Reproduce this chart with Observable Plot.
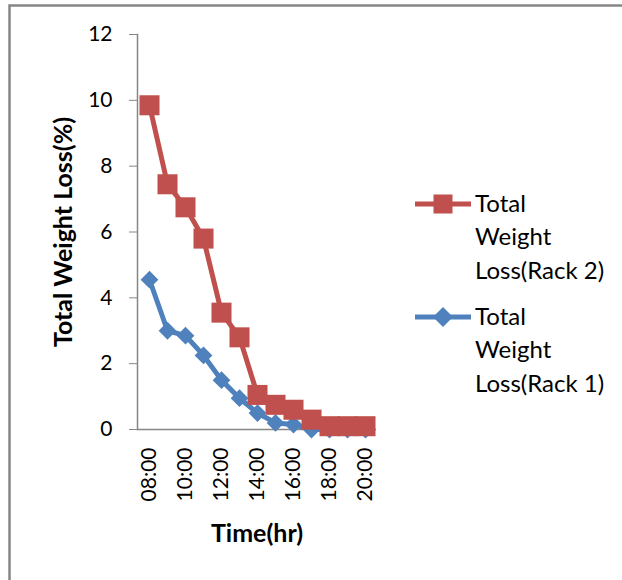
<!DOCTYPE html>
<html><head><meta charset="utf-8">
<script src="https://cdn.jsdelivr.net/npm/d3@7"></script>
<script src="https://cdn.jsdelivr.net/npm/@observablehq/plot@0.6"></script>
<style>
body{margin:0;background:#fff;}
#wrap{position:relative;width:622px;height:580px;overflow:hidden;}
#wrap svg{position:absolute;left:0;top:0;}
</style>
</head><body><div id="wrap"></div>
<script>
const times = ["08:00","09:00","10:00","11:00","12:00","13:00","14:00","15:00","16:00","17:00","18:00","19:00","20:00"];
const rack2 = [9.85, 7.45, 6.75, 5.8, 3.55, 2.8, 1.05, 0.75, 0.6, 0.3, 0.1, 0.1, 0.1];
const rack1 = [4.55, 3.0, 2.85, 2.25, 1.5, 0.95, 0.5, 0.2, 0.15, 0.0, 0.0, 0.0, 0.0];
const xTickLabels = ["08:00","10:00","12:00","14:00","16:00","18:00","20:00"];
const yTicks = [0, 2, 4, 6, 8, 10, 12];
const seriesNames = ["Total Weight Loss(Rack 2)", "Total Weight Loss(Rack 1)"];
const yTitle = "Total Weight Loss(%)";
const xTitle = "Time(hr)";

const red = "#C0504D", blue = "#4F81BD", gray = "#868686";
const font = "Lato, sans-serif";
const d1 = times.map((t, i) => ({t, v: rack1[i]}));
const d2 = times.map((t, i) => ({t, v: rack2[i]}));

const chart = Plot.plot({
  width: 622, height: 580,
  marginLeft: 137, marginRight: 246, marginTop: 34, marginBottom: 151,
  style: {fontFamily: font, fontSize: "21px", color: "#000", background: "transparent"},
  x: {type: "point", domain: times, padding: 0.5},
  y: {domain: [0, 12]},
  marks: [
    Plot.frame({anchor: "left", stroke: gray, strokeWidth: 1.5}),
    Plot.ruleY([0], {stroke: gray, strokeWidth: 1.5}),
    Plot.axisY({ticks: yTicks, tickSize: 8, tickPadding: 17, stroke: gray, label: null, fontSize: 21}),
    Plot.axisX({ticks: xTickLabels, tickSize: 0, tickPadding: 18, tickRotate: -90, label: null, fontSize: 21}),
    Plot.text([yTitle], {frameAnchor: "left", textAnchor: "middle", lineAnchor: "middle", rotate: -90, dx: -74, fontWeight: "bold", fontSize: 25}),
    Plot.text([xTitle], {frameAnchor: "bottom", textAnchor: "middle", lineAnchor: "middle", dy: 104, fontWeight: "bold", fontSize: 25}),
    Plot.lineY(d1, {x: "t", y: "v", stroke: blue, strokeWidth: 5}),
    Plot.dot(d1, {x: "t", y: "v", symbol: "diamond2", r: 8, fill: blue}),
    Plot.lineY(d2, {x: "t", y: "v", stroke: red, strokeWidth: 5}),
    Plot.dot(d2, {x: "t", y: "v", symbol: "square", r: 11.3, fill: red})
  ]
});
const wrap = document.getElementById("wrap");
wrap.appendChild(chart);

// chart border + legend overlay
const svg = d3.select(wrap).append("svg").attr("width", 622).attr("height", 580)
  .style("font-family", font).style("font-size", "24px");
svg.append("path").attr("d", "M9.5,580V5.5H622").attr("fill", "none").attr("stroke", gray).attr("stroke-width", 2.5);

const items = [
  {name: seriesNames[0], color: red, shape: "square", y: 204},
  {name: seriesNames[1], color: blue, shape: "diamond", y: 317}
];
items.forEach(it => {
  const g = svg.append("g");
  g.append("line").attr("x1", 415).attr("x2", 471).attr("y1", it.y).attr("y2", it.y)
    .attr("stroke", it.color).attr("stroke-width", 5);
  if (it.shape === "square") {
    g.append("rect").attr("x", 433.5).attr("y", it.y - 9.5).attr("width", 19).attr("height", 19).attr("fill", it.color);
  } else {
    g.append("path").attr("d", `M443,${it.y - 10}L453,${it.y}L443,${it.y + 10}L433,${it.y}Z`).attr("fill", it.color);
  }
  const w = it.name.split(" ");
  const lines = [w[0], w[1], w.slice(2).join(" ")];
  lines.forEach((l, i) => {
    g.append("text").attr("x", 475).attr("y", it.y + 8 + i * 33.3).text(l);
  });
});
</script>
</body></html>
